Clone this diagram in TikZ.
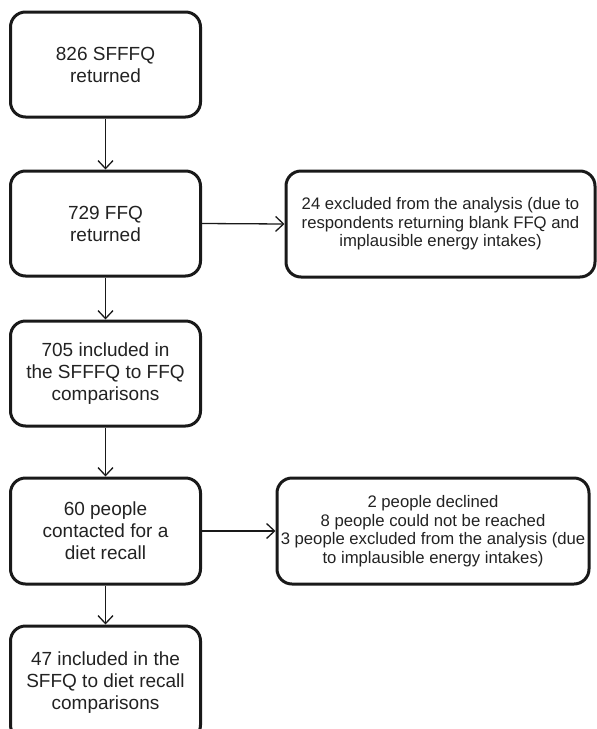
\documentclass[tikz,border=0pt]{standalone}
\usepackage{fontspec}
\setmainfont{Liberation Sans}
\usetikzlibrary{arrows.meta}
\definecolor{txt}{HTML}{222222}
\tikzset{
  box/.style={draw=black!90, line width=3pt, rounded corners=15pt, align=center,
    inner sep=0pt, text=txt, font=\fontsize{19}{22}\selectfont},
  mainbox/.style={box, minimum width=190pt, minimum height=105pt},
  sidebox/.style={box, font=\fontsize{16.7}{18.6}\selectfont},
  conn/.style={draw=black!90, line width=1.3pt, -{Straight Barb[length=8pt,width=15pt,line width=1.3pt]}}
}
\begin{document}
\begin{tikzpicture}[x=1pt,y=-1pt]
\useasboundingbox (0,0) rectangle (597,729);
\clip (0,0) rectangle (597,729);
\node[mainbox] (b1) at (105.5,64.5) {826 SFFFQ\\returned};
\node[mainbox] (b2) at (105.5,223.5) {729 FFQ\\returned};
\node[mainbox] (b3) at (105.5,373.5) {705 included in\\the SFFFQ to FFQ\\comparisons};
\node[mainbox, minimum height=106pt] (b4) at (105.5,531) {60 people\\contacted for a\\diet recall};
\node[mainbox, minimum height=114pt] (b5) at (105.5,683) {47 included in the\\SFFQ to diet recall\\comparisons};
\node[sidebox, minimum width=309pt, minimum height=106pt] (s1) at (440.5,224) {24 excluded from the analysis (due to\\respondents returning blank FFQ and\\implausible energy intakes)};
\node[sidebox, minimum width=312pt, minimum height=106pt] (s2) at (433,531) {2 people declined\\8 people could not be reached\\3 people excluded from the analysis (due\\to implausible energy intakes)};
\draw[conn] (b1.south) -- (b2.north);
\draw[conn] (b2.south) -- (b3.north);
\draw[conn] (b3.south) -- (b4.north);
\draw[conn] (b4.south) -- (b5.north);
\draw[conn] (b2.east) -- (s1.west);
\draw[conn] (b4.east) -- (s2.west);
\end{tikzpicture}
\end{document}
